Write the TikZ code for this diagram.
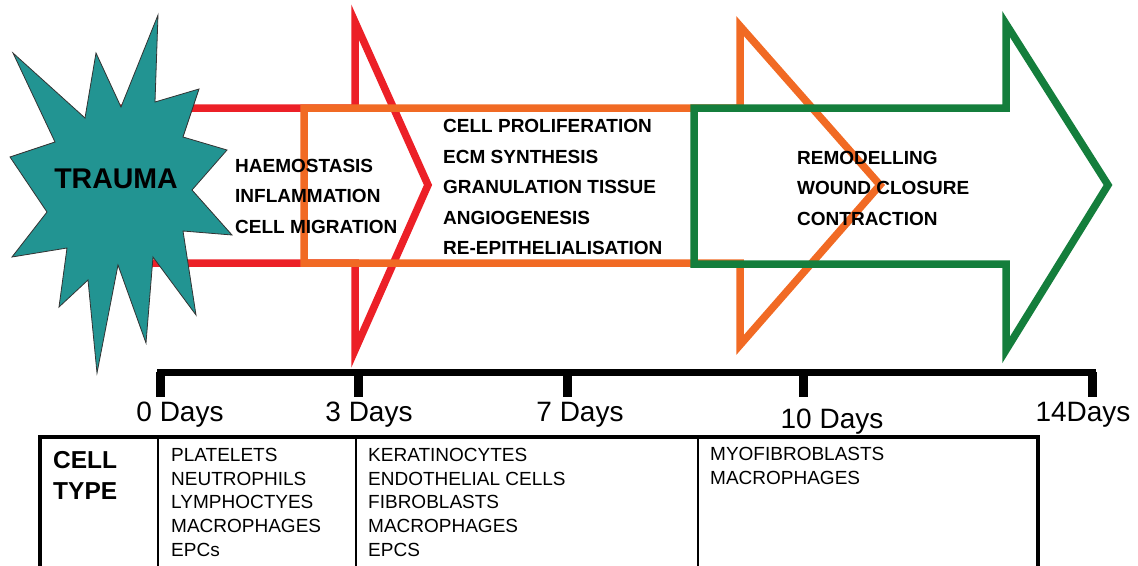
\documentclass[tikz,border=0pt]{standalone}
\usepackage{fontspec}
\setmainfont{Liberation Sans}
\usepackage{xcolor}
\usetikzlibrary{positioning}

\definecolor{phasered}{RGB}{236,32,39}
\definecolor{phaseorange}{RGB}{241,106,36}
\definecolor{phasegreen}{RGB}{20,126,60}
\definecolor{traumateal}{RGB}{34,148,146}

\tikzset{
  phasearrow/.style={line width=7.5pt, line join=miter},
  phasetext/.style={font=\fontsize{19}{30.5}\selectfont\bfseries, align=left, anchor=west, inner sep=0pt},
  celltext/.style={font=\fontsize{19}{23.75}\selectfont, align=left, anchor=north west, inner sep=0pt},
  daylabel/.style={font=\fontsize{28}{28}\selectfont, anchor=base, inner sep=0pt},
}

\begin{document}
\begin{tikzpicture}[x=1pt, y=-1pt]
      \useasboundingbox (0,0) rectangle (1138,565);
      \clip (0,0) rectangle (1138,565);

      % Phase arrows, drawn back to front
      \draw[phasearrow, phasered]
        (110,108) -- (355,108) -- (355,22) -- (428,185)
        -- (355,350) -- (355,263) -- (110,263);
      \draw[phasearrow, phaseorange]
        (304,108) -- (740,108) -- (740,26) -- (880,185)
        -- (740,345) -- (740,263) -- (304,263) -- cycle;
      \draw[phasearrow, phasegreen]
        (694,108) -- (1006,108) -- (1006,24) -- (1108,185)
        -- (1006,350) -- (1006,264) -- (694,264) -- cycle;

      % The trauma burst
      \filldraw[fill=traumateal, draw=black!80, line width=0.8pt]
        (158,15) -- (155,102) -- (199,89) -- (183,137) -- (227,150)
        -- (192,190) -- (232,235) -- (183,231) -- (196,315) -- (153,257)
        -- (146,343) -- (118,265) -- (97,373) -- (88,280) -- (59,307)
        -- (67,248) -- (12,257) -- (47,212) -- (10,157) -- (55,142)
        -- (13,53) -- (85,118) -- (96,53) -- (121,107) -- cycle;
      \node[font=\fontsize{28.5}{28}\selectfont\bfseries, inner sep=0pt] (trauma) at (116,179) {TRAUMA};

      % Events of each phase
      \node[phasetext] (early) at (235,196) {HAEMOSTASIS\\INFLAMMATION\\CELL MIGRATION};
      \node[phasetext] (middle) at (443,187) {CELL PROLIFERATION\\ECM SYNTHESIS\\GRANULATION TISSUE\\ANGIOGENESIS\\RE-EPITHELIALISATION};
      \node[phasetext] (late) at (797,188) {REMODELLING\\WOUND CLOSURE\\CONTRACTION};

      % Time line
      \draw[line width=7pt, line join=miter] (160,397) -- (160,372) -- (1092,372) -- (1092,397);
      \foreach \x in {160,358,567,803,1092} {
        \draw[line width=9pt] (\x,372) -- (\x,397);
      }
      \foreach \x/\y/\name/\txt in {180/421/dayzero/0 Days, 369/421/daythree/3 Days,
                                    580/421/dayseven/7 Days, 832/428/dayten/10 Days,
                                    1083/421/dayfourteen/14Days} {
        \node[daylabel] (\name) at (\x,\y) {\txt};
      }

      % Cell type table
      \draw[line width=4pt] (40,437) rectangle (1038,590);
      \foreach \x in {158,356,698} {
        \draw[line width=1.2pt] (\x,437) -- (\x,590);
      }
      \node[font=\fontsize{24.5}{31}\selectfont\bfseries, align=left, anchor=north west, inner sep=0pt]
        (celltype) at (53,451) {CELL\\TYPE};
      \node[celltext] (earlycells) at (171,448) {PLATELETS\\NEUTROPHILS\\LYMPHOCTYES\\MACROPHAGES\\EPCs};
      \node[celltext] (middlecells) at (368,448) {KERATINOCYTES\\ENDOTHELIAL CELLS\\FIBROBLASTS\\MACROPHAGES\\EPCS};
      \node[celltext] (latecells) at (710,447) {MYOFIBROBLASTS\\MACROPHAGES};
\end{tikzpicture}
\end{document}
